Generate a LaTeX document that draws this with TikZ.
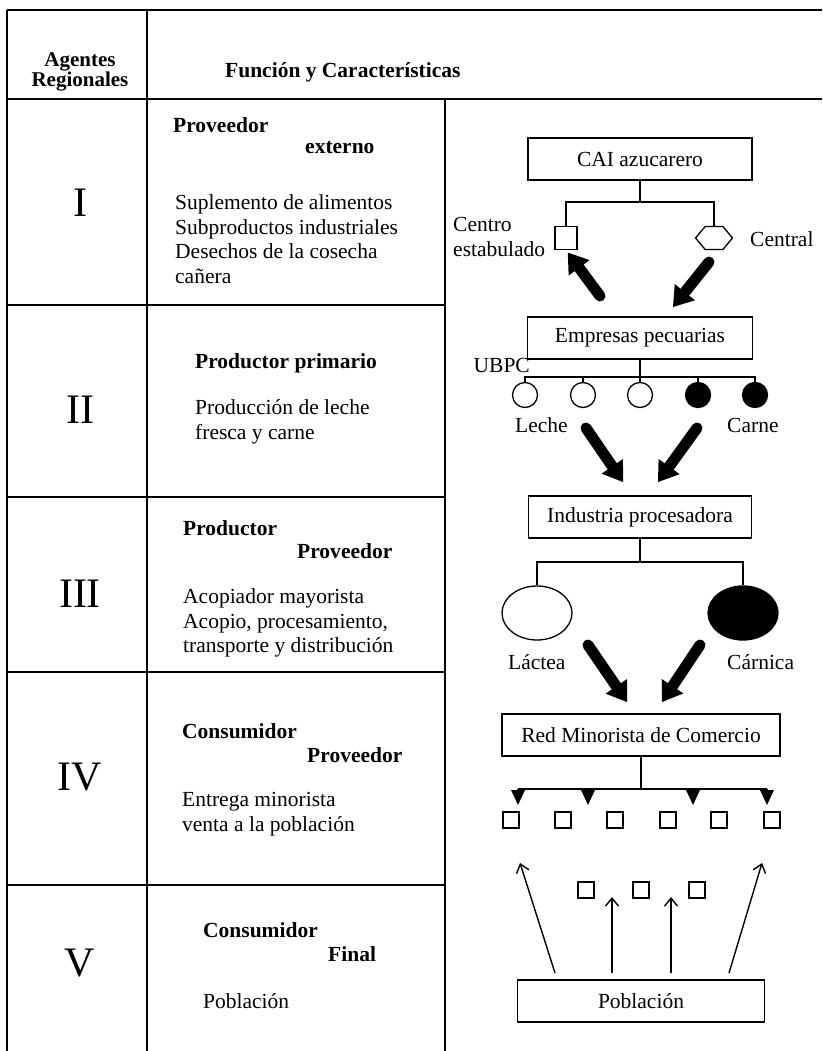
\documentclass[tikz,border=0pt]{standalone}
\usepackage{fontspec}
\setmainfont{Liberation Serif}
\usetikzlibrary{arrows.meta,shapes.geometric,shapes.symbols}

\newcommand{\txt}{\fontsize{21.5}{24.5}\selectfont}
\newcommand{\cab}{\fontsize{21}{19}\selectfont\bfseries}
\newcommand{\rom}{\fontsize{42}{42}\selectfont}

\begin{document}
\begin{tikzpicture}[x=1pt,y=-1pt,
  linea/.style={line width=1.8pt},
  rama/.style={line width=1.3pt},
  caja/.style={draw,line width=1.3pt,minimum height=42pt,inner sep=0pt,font=\txt},
  texto/.style={anchor=west,inner sep=0pt,align=left,font=\txt},
  negrita/.style={anchor=west,inner sep=0pt,font=\txt\bfseries},
  romano/.style={inner sep=0pt,font=\rom},
  gruesa/.style={line width=11pt,line cap=round,-{Triangle[length=19pt,width=26pt,line width=0pt]}},
  fina/.style={line width=1.4pt,-{Straight Barb[length=8pt,width=13pt]}},
  marca/.style={line width=1.3pt,-{Triangle[length=15pt,width=14pt,line width=0pt]}},
  cuadro/.style={draw,line width=1.3pt,minimum size=16pt,inner sep=0pt},
  circulo/.style={draw,circle,line width=1.3pt,minimum size=25pt,inner sep=0pt},
  elipse/.style={draw,ellipse,line width=1.3pt,minimum width=70pt,minimum height=54pt,inner sep=0pt},
  hexa/.style={draw,signal,signal to=east and west,signal pointer angle=100,line width=1.3pt,
    minimum width=37pt,minimum height=23pt,inner sep=0pt}]
  \useasboundingbox (0,0) rectangle (822,1051);

  % tabla
  \draw[linea] (7,10) -- (822,10);
  \draw[linea] (7,99) -- (822,99);
  \draw[linea] (7,10) -- (7,1051);
  \draw[linea] (147,10) -- (147,1051);
  \draw[linea] (445,99) -- (445,1051);
  \foreach \y in {305,497,672,885}{
    \draw[linea] (7,\y) -- (445,\y);
  }

  % encabezado
  \node[align=center,inner sep=0pt,font=\cab] (agentes) at (80,72) {Agentes\\Regionales};
  \node[negrita] (funcion) at (225,72) {Función y Características};

  % agentes
  \node[romano] (r1) at (80,203) {I};
  \node[negrita] (prov1) at (173,125) {Proveedor};
  \node[negrita] (ext1) at (305,148) {externo};
  \node[texto] (desc1) at (175,239) {Suplemento de alimentos\\Subproductos industriales\\Desechos de la cosecha\\cañera};

  \node[romano] (r2) at (80,410) {II};
  \node[negrita] (prod2) at (195,363) {Productor primario};
  \node[texto] (desc2) at (195,422) {Producción de leche\\fresca y carne};

  \node[romano] (r3) at (80,594) {III};
  \node[negrita] (prod3) at (183,528) {Productor};
  \node[negrita] (prov3) at (297,551) {Proveedor};
  \node[texto] (desc3) at (183,623) {Acopiador mayorista\\Acopio, procesamiento,\\transporte y distribución};

  \node[romano] (r4) at (80,777) {IV};
  \node[negrita] (cons4) at (182,731) {Consumidor};
  \node[negrita] (prov4) at (307,755) {Proveedor};
  \node[texto] (desc4) at (182,814) {Entrega minorista\\venta a la población};

  \node[romano] (r5) at (80,963) {V};
  \node[negrita] (cons5) at (203,930) {Consumidor};
  \node[negrita] (fin5) at (328,954) {Final};
  \node[texto] (desc5) at (203,1001) {Población};

  % nivel I
  \node[caja,minimum width=224pt] (cai) at (640,159) {CAI azucarero};
  \node[cuadro,minimum width=22pt,minimum height=23pt] (centro) at (566,238) {};
  \node[hexa] (central) at (714,238) {};
  \node[texto] (centrolbl) at (453,237) {Centro\\estabulado};
  \node[texto] (centrallbl) at (750,239) {Central};
  \coordinate (b1) at (640,202);
  \draw[rama] (cai.south) -- (b1);
  \draw[rama] (centro.north) |- (b1) -| (central.north);

  % nivel II
  \node[caja,minimum width=225pt] (emp) at (640,338) {Empresas pecuarias};
  \node[texto,anchor=east] (ubpc) at (530,365) {UBPC};
  \foreach \x/\n in {525/1,583/2,640/3}{
    \node[circulo] (c\n) at (\x,395) {};
  }
  \foreach \x/\n in {698/4,755/5}{
    \node[circulo,fill=black] (c\n) at (\x,395) {};
  }
  \node[texto] (leche) at (515,425) {Leche};
  \node[texto] (carne) at (727,425) {Carne};
  \coordinate (b2) at (640,377);
  \draw[rama] (emp.south) -- (b2);
  \foreach \n in {1,...,5}{
    \draw[rama] (c\n.north) |- (b2);
  }

  \coordinate (f1a) at (600,296);
  \coordinate (f2a) at (709,262);
  \coordinate (f2b) at (673,307);
  \draw[gruesa,shorten >=3pt] (f1a) -- (centro.south);
  \draw[gruesa] (f2a) -- (f2b);

  % nivel III
  \node[caja,minimum width=223pt] (ind) at (640,517) {Industria procesadora};
  \node[elipse] (lactea) at (537,613) {};
  \node[elipse,fill=black] (carnica) at (743,613) {};
  \node[texto] (lactealbl) at (508,662) {Láctea};
  \node[texto] (carnicalbl) at (727,662) {Cárnica};
  \coordinate (b3) at (640,562);
  \draw[rama] (ind.south) -- (b3);
  \draw[rama] (lactea.north) |- (b3) -| (carnica.north);

  \coordinate (f3a) at (586,428);
  \coordinate (f3b) at (623,482);
  \coordinate (f4a) at (697,428);
  \coordinate (f4b) at (658,482);
  \draw[gruesa] (f3a) -- (f3b);
  \draw[gruesa] (f4a) -- (f4b);

  % nivel IV
  \node[caja,minimum width=278pt] (red) at (641,735) {Red Minorista de Comercio};
  \foreach \x/\n in {511/1,563/2,615/3,668/4,719/5,772/6}{
    \node[cuadro] (t\n) at (\x,820) {};
  }
  \coordinate (b4) at (641,789);
  \draw[rama] (red.south) -- (b4);
  \draw[rama] (518,789) -- (767,789);
  \foreach \x in {518,588,693,767}{
    \draw[marca] (\x,789) -- (\x,805);
  }

  \coordinate (f5a) at (588,645);
  \coordinate (f5b) at (627,702);
  \coordinate (f6a) at (700,645);
  \coordinate (f6b) at (662,702);
  \draw[gruesa] (f5a) -- (f5b);
  \draw[gruesa] (f6a) -- (f6b);

  % nivel V
  \foreach \x/\n in {586/1,641/2,697/3}{
    \node[cuadro] (u\n) at (\x,890) {};
  }
  \node[caja,minimum width=247pt] (pob) at (641,1001) {Población};

  \coordinate (g1a) at (555,973);
  \coordinate (g1b) at (520,863);
  \coordinate (g2a) at (612,973);
  \coordinate (g2b) at (612,897);
  \coordinate (g3a) at (671,973);
  \coordinate (g3b) at (671,897);
  \coordinate (g4a) at (729,973);
  \coordinate (g4b) at (762,863);
  \foreach \n in {1,...,4}{
    \draw[fina] (g\n a) -- (g\n b);
  }
\end{tikzpicture}
\end{document}
